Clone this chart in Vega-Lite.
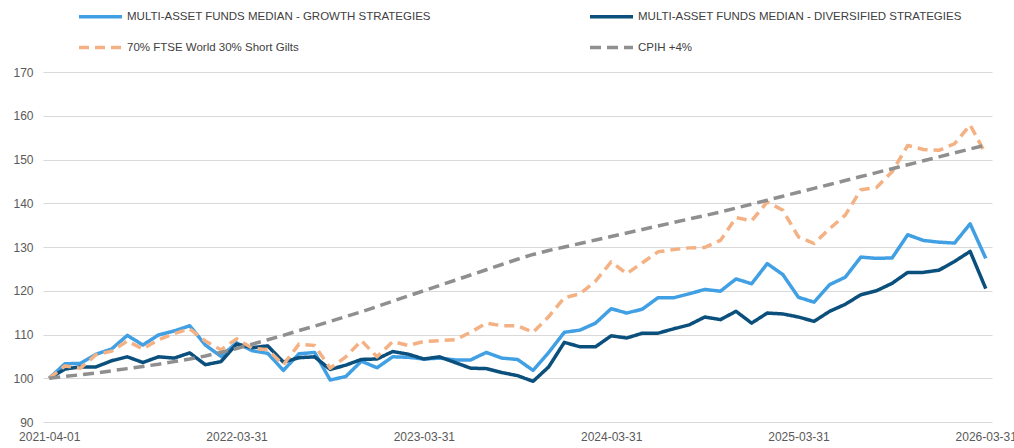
{
  "$schema": "https://vega.github.io/schema/vega-lite/v6.json",
  "width": 949,
  "height": 350,
  "autosize": {"type": "none"},
  "padding": {"left": 43, "top": 72, "right": 22, "bottom": 26},
  "background": "white",
  "config": {"view": {"stroke": null}, "font": "Liberation Sans"},
  "data": {"values": [
    {"date": "2021-04-01", "g": 100.0, "d": 100.0, "f": 100.0, "c": 100.0},
    {"date": "2021-04-30", "g": 103.3, "d": 102.1, "f": 102.8, "c": 100.4},
    {"date": "2021-05-31", "g": 103.4, "d": 102.6, "f": 102.3, "c": 100.8},
    {"date": "2021-06-30", "g": 105.5, "d": 102.6, "f": 105.4, "c": 101.2},
    {"date": "2021-07-31", "g": 106.7, "d": 104.0, "f": 106.2, "c": 101.7},
    {"date": "2021-08-31", "g": 109.8, "d": 104.9, "f": 108.5, "c": 102.2},
    {"date": "2021-09-30", "g": 107.6, "d": 103.6, "f": 106.7, "c": 102.7},
    {"date": "2021-10-31", "g": 109.9, "d": 104.9, "f": 108.8, "c": 103.2},
    {"date": "2021-11-30", "g": 110.8, "d": 104.6, "f": 110.2, "c": 103.8},
    {"date": "2021-12-31", "g": 112.0, "d": 105.8, "f": 111.3, "c": 104.4},
    {"date": "2022-01-31", "g": 107.6, "d": 103.1, "f": 108.5, "c": 105.1},
    {"date": "2022-02-28", "g": 105.0, "d": 103.8, "f": 106.5, "c": 105.9},
    {"date": "2022-03-31", "g": 108.1, "d": 107.8, "f": 109.0, "c": 106.8},
    {"date": "2022-04-30", "g": 106.3, "d": 107.0, "f": 106.9, "c": 107.8},
    {"date": "2022-05-31", "g": 105.7, "d": 107.4, "f": 106.5, "c": 108.8},
    {"date": "2022-06-30", "g": 101.8, "d": 103.7, "f": 103.1, "c": 109.8},
    {"date": "2022-07-31", "g": 105.6, "d": 104.7, "f": 107.8, "c": 110.9},
    {"date": "2022-08-31", "g": 105.9, "d": 104.9, "f": 107.5, "c": 111.9},
    {"date": "2022-09-30", "g": 99.6, "d": 102.0, "f": 102.3, "c": 113.0},
    {"date": "2022-10-31", "g": 100.4, "d": 103.0, "f": 104.9, "c": 114.1},
    {"date": "2022-11-30", "g": 103.9, "d": 104.3, "f": 108.6, "c": 115.2},
    {"date": "2022-12-31", "g": 102.4, "d": 104.4, "f": 104.9, "c": 116.4},
    {"date": "2023-01-31", "g": 104.9, "d": 106.1, "f": 108.4, "c": 117.6},
    {"date": "2023-02-28", "g": 104.8, "d": 105.5, "f": 107.5, "c": 118.8},
    {"date": "2023-03-31", "g": 104.4, "d": 104.4, "f": 108.4, "c": 120.0},
    {"date": "2023-04-30", "g": 104.6, "d": 104.9, "f": 108.6, "c": 121.2},
    {"date": "2023-05-31", "g": 104.2, "d": 103.6, "f": 108.8, "c": 122.4},
    {"date": "2023-06-30", "g": 104.2, "d": 102.3, "f": 110.5, "c": 123.6},
    {"date": "2023-07-31", "g": 105.9, "d": 102.2, "f": 112.6, "c": 124.8},
    {"date": "2023-08-31", "g": 104.6, "d": 101.3, "f": 112.0, "c": 126.0},
    {"date": "2023-09-30", "g": 104.3, "d": 100.6, "f": 112.0, "c": 127.2},
    {"date": "2023-10-31", "g": 101.8, "d": 99.3, "f": 110.5, "c": 128.3},
    {"date": "2023-11-30", "g": 105.9, "d": 102.6, "f": 114.1, "c": 129.2},
    {"date": "2023-12-31", "g": 110.5, "d": 108.2, "f": 118.4, "c": 130.0},
    {"date": "2024-01-31", "g": 111.0, "d": 107.2, "f": 119.3, "c": 130.8},
    {"date": "2024-02-29", "g": 112.6, "d": 107.2, "f": 122.2, "c": 131.6},
    {"date": "2024-03-31", "g": 115.9, "d": 109.7, "f": 126.6, "c": 132.4},
    {"date": "2024-04-30", "g": 114.9, "d": 109.2, "f": 123.9, "c": 133.2},
    {"date": "2024-05-31", "g": 115.8, "d": 110.3, "f": 126.4, "c": 134.0},
    {"date": "2024-06-30", "g": 118.4, "d": 110.3, "f": 128.9, "c": 134.8},
    {"date": "2024-07-31", "g": 118.4, "d": 111.3, "f": 129.4, "c": 135.6},
    {"date": "2024-08-31", "g": 119.3, "d": 112.2, "f": 129.8, "c": 136.4},
    {"date": "2024-09-30", "g": 120.3, "d": 114.0, "f": 129.9, "c": 137.2},
    {"date": "2024-10-31", "g": 119.9, "d": 113.4, "f": 131.5, "c": 138.0},
    {"date": "2024-11-30", "g": 122.7, "d": 115.3, "f": 136.7, "c": 138.9},
    {"date": "2024-12-31", "g": 121.6, "d": 112.6, "f": 136.0, "c": 139.8},
    {"date": "2025-01-31", "g": 126.2, "d": 114.9, "f": 140.3, "c": 140.7},
    {"date": "2025-02-28", "g": 123.7, "d": 114.7, "f": 138.4, "c": 141.6},
    {"date": "2025-03-31", "g": 118.5, "d": 114.0, "f": 132.3, "c": 142.5},
    {"date": "2025-04-30", "g": 117.4, "d": 113.0, "f": 130.8, "c": 143.4},
    {"date": "2025-05-31", "g": 121.4, "d": 115.3, "f": 134.2, "c": 144.3},
    {"date": "2025-06-30", "g": 123.1, "d": 116.9, "f": 137.3, "c": 145.2},
    {"date": "2025-07-31", "g": 127.7, "d": 119.1, "f": 143.1, "c": 146.1},
    {"date": "2025-08-31", "g": 127.4, "d": 120.0, "f": 143.6, "c": 147.0},
    {"date": "2025-09-30", "g": 127.5, "d": 121.7, "f": 147.2, "c": 147.9},
    {"date": "2025-10-31", "g": 132.8, "d": 124.2, "f": 153.2, "c": 148.8},
    {"date": "2025-11-30", "g": 131.5, "d": 124.2, "f": 152.3, "c": 149.7},
    {"date": "2025-12-31", "g": 131.1, "d": 124.7, "f": 152.1, "c": 150.6},
    {"date": "2026-01-31", "g": 130.9, "d": 126.7, "f": 153.6, "c": 151.5},
    {"date": "2026-02-28", "g": 135.3, "d": 129.0, "f": 157.9, "c": 152.4},
    {"date": "2026-03-31", "g": 127.4, "d": 120.5, "f": 151.2, "c": 153.3}
  ]},
  "transform": [{"fold": ["g", "d", "f", "c"], "as": ["series", "value"]}],
  "mark": {"type": "line", "strokeWidth": 3.5, "strokeJoin": "round"},
  "encoding": {
    "x": {
      "field": "date", "type": "ordinal", "sort": null,
      "scale": {"type": "point", "padding": 0.4},
      "axis": {
        "values": ["2021-04-01", "2022-03-31", "2023-03-31", "2024-03-31", "2025-03-31", "2026-03-31"],
        "labelAngle": 0, "title": null, "domain": false, "ticks": false, "grid": false,
        "labelFontSize": 12, "labelColor": "#595959", "labelPadding": 9, "labelFont": "Liberation Sans"
      }
    },
    "y": {
      "field": "value", "type": "quantitative",
      "scale": {"domain": [90, 170], "nice": false, "zero": false},
      "axis": {
        "values": [90, 100, 110, 120, 130, 140, 150, 160, 170],
        "title": null, "domain": false, "ticks": false,
        "gridColor": "#D9D9D9", "gridWidth": 1,
        "labelFontSize": 12, "labelColor": "#595959", "labelPadding": 10, "labelFont": "Liberation Sans"
      }
    },
    "color": {
      "field": "series", "type": "nominal",
      "scale": {"domain": ["g", "f", "d", "c"], "range": ["#419FE3", "#F4B183", "#0B4F7D", "#8F8F8F"]},
      "legend": {
        "title": null, "orient": "none", "legendX": 34, "legendY": -79, "columns": 2,
        "columnPadding": 152, "rowPadding": -24,
        "symbolType": "stroke", "symbolSize": 1849, "symbolStrokeWidth": 3.5,
        "labelFont": "Liberation Sans", "labelFontSize": 11.5, "labelColor": "#404040", "labelLimit": 0, "labelOffset": 3,
        "labelExpr": "{'g':'MULTI-ASSET FUNDS MEDIAN - GROWTH STRATEGIES','d':'MULTI-ASSET FUNDS MEDIAN - DIVERSIFIED STRATEGIES','f':'70% FTSE World 30% Short Gilts','c':'CPIH +4%'}[datum.label]"
      }
    },
    "strokeDash": {
      "field": "series", "type": "nominal",
      "scale": {"domain": ["g", "f", "d", "c"], "range": [[1, 0], [10, 6], [1, 0], [11, 6]]},
      "legend": {
        "title": null, "orient": "none", "legendX": 34, "legendY": -79, "columns": 2,
        "columnPadding": 152, "rowPadding": -24,
        "symbolType": "stroke", "symbolSize": 1849, "symbolStrokeWidth": 3.5,
        "labelFont": "Liberation Sans", "labelFontSize": 11.5, "labelColor": "#404040", "labelLimit": 0, "labelOffset": 3,
        "labelExpr": "{'g':'MULTI-ASSET FUNDS MEDIAN - GROWTH STRATEGIES','d':'MULTI-ASSET FUNDS MEDIAN - DIVERSIFIED STRATEGIES','f':'70% FTSE World 30% Short Gilts','c':'CPIH +4%'}[datum.label]"
      }
    }
  }
}
